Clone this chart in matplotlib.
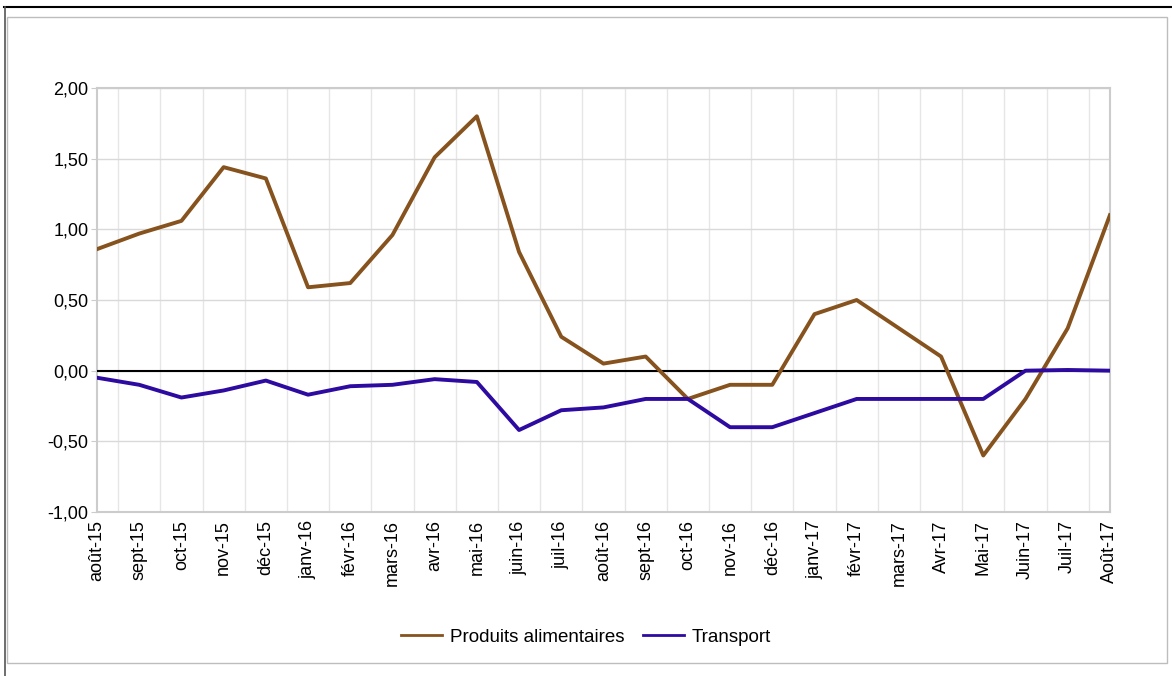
import matplotlib
matplotlib.use("Agg")
import matplotlib.pyplot as plt
from matplotlib.patches import Rectangle
from matplotlib.lines import Line2D
from matplotlib.ticker import FuncFormatter, MultipleLocator

months = ["août-15", "sept-15", "oct-15", "nov-15", "déc-15", "janv-16", "févr-16",
          "mars-16", "avr-16", "mai-16", "juin-16", "juil-16", "août-16", "sept-16",
          "oct-16", "nov-16", "déc-16", "janv-17", "févr-17", "mars-17", "Avr-17",
          "Mai-17", "Juin-17", "Juil-17", "Août-17"]

produits = [0.86, 0.97, 1.06, 1.44, 1.36, 0.59, 0.62, 0.96, 1.51, 1.80, 0.84, 0.24,
            0.05, 0.10, -0.20, -0.10, -0.10, 0.40, 0.50, 0.30, 0.10, -0.60, -0.20,
            0.30, 1.10]
transport = [-0.05, -0.10, -0.19, -0.14, -0.07, -0.17, -0.11, -0.10, -0.06, -0.08,
             -0.42, -0.28, -0.26, -0.20, -0.20, -0.40, -0.40, -0.30, -0.20, -0.20,
             -0.20, -0.20, 0.00, 0.005, 0.00]

plt.rcParams['font.family'] = ['Liberation Sans', 'DejaVu Sans']

fig = plt.figure(figsize=(11.72, 6.76), dpi=100)
ax = fig.add_axes([0.0828, 0.2426, 0.947 - 0.0828, 0.8698 - 0.2426])

# outer frame
fig.add_artist(Line2D([4 / 1172, 1.0], [1 - 7 / 676, 1 - 7 / 676], color="black", lw=1.5))
fig.add_artist(Line2D([5 / 1172, 5 / 1172], [0, 1 - 7 / 676], color="#555555", lw=1.2))
fig.add_artist(Rectangle((7 / 1172, 1 - 663 / 676), (1167 - 7) / 1172, (663 - 17) / 676,
                         fill=False, edgecolor="#bdbdbd", lw=1.0))

x = list(range(len(months)))
ax.plot(x, produits, color="#86521d", lw=2.8, label="Produits alimentaires", zorder=4)
ax.plot(x, transport, color="#2d0aa0", lw=2.8, label="Transport", zorder=4)
ax.axhline(0, color="black", lw=1.5, zorder=3)

ax.set_xlim(0, len(months) - 1)
ax.set_ylim(-1.0, 2.0)
ax.yaxis.set_major_locator(MultipleLocator(0.5))
ax.yaxis.set_major_formatter(FuncFormatter(lambda v, p: f"{v:.2f}".replace(".", ",")))
ax.set_xticks(x)
ax.set_xticklabels(months, rotation=90, fontsize=13)
ax.tick_params(axis="y", labelsize=13, length=4, color="#cccccc", pad=2)
ax.tick_params(axis="x", length=0, pad=6)

# horizontal grid + vertical grid between categories
ax.grid(axis="y", color="#d9d9d9", lw=1.0)
for i in range(len(months) - 1):
    ax.axvline(i + 0.5, color="#e6e6e6", lw=1.0, zorder=0)
ax.set_axisbelow(True)

for s in ax.spines.values():
    s.set_color("#cccccc")
    s.set_linewidth(1.5)

leg = fig.legend(loc="center", bbox_to_anchor=(0.5, 1 - 637 / 676), ncol=2, frameon=False,
                 fontsize=13.5, handlelength=2.2, handletextpad=0.4, columnspacing=1.0)
for line in leg.get_lines():
    line.set_linewidth(2.0)

fig.savefig("out.png", dpi=100)
